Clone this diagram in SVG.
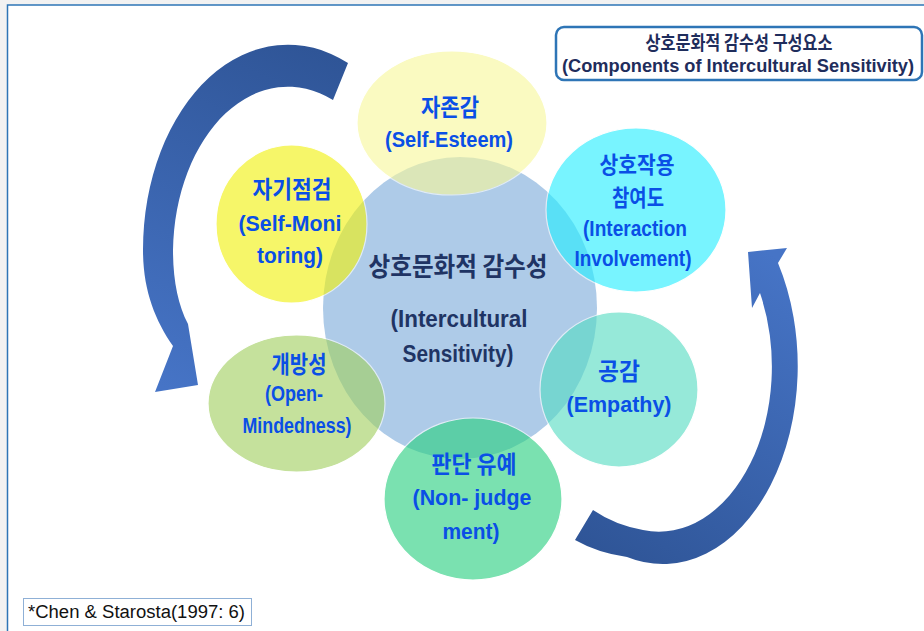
<svg xmlns="http://www.w3.org/2000/svg" width="924" height="631" viewBox="0 0 924 631">
<style>
.kt{font-family:"Noto Sans CJK KR","Noto Sans",sans-serif;font-weight:bold;text-anchor:middle}
.lt{font-family:"Liberation Sans",Arial,sans-serif;font-weight:bold;text-anchor:middle}
.node{font-size:22px;fill:#0a4fe6}
.ko{font-size:23.5px}
.ctr{font-size:24px;fill:#1f3464}
.ctrk{font-size:26px}
.ttl{font-size:19px;fill:#1f2d5c}
.sat{stroke:#ffffff;stroke-width:1.2;opacity:0.62}
</style>
<defs>
<linearGradient id="gL" gradientUnits="userSpaceOnUse" x1="320" y1="50" x2="170" y2="390">
<stop offset="0" stop-color="#2f5597"/><stop offset="1" stop-color="#4674c6"/>
</linearGradient>
<linearGradient id="gR" gradientUnits="userSpaceOnUse" x1="590" y1="550" x2="780" y2="260">
<stop offset="0" stop-color="#2f5597"/><stop offset="1" stop-color="#4674c6"/>
</linearGradient>
</defs>
<rect x="0" y="0" width="924" height="631" fill="#f2f2f2"/>
<rect x="7.5" y="5" width="940" height="650" fill="#ffffff" stroke="#2e75b6" stroke-width="1.5"/>

<g id="connectors">
<path id="arrow-left" fill="url(#gL)" d="M 348,63 A 145 205 0 0 0 143,250 C 143,290 155,320 173,346 L 155,392 L 198,385 L 188,324 C 178,305 173,280 173,250 A 115 167 0 0 1 333,100 Z"/>
<path id="arrow-right" fill="url(#gR)" d="M 575,540 Q 598,553 627,557 A 135 198 0 0 0 778,263 L 787,248 L 748,252 L 752,308 L 760,293 A 113 165 0 0 1 643,530 Q 615,525 593,510 Z"/>
</g>

<g id="center">
<ellipse cx="460" cy="308" rx="137" ry="151" fill="#aecbe8"/>
</g>
<g id="self-esteem">
<ellipse class="sat" cx="452" cy="123" rx="95" ry="72" fill="#f8f89c"/>
</g>
<g id="self-monitoring">
<ellipse class="sat" cx="291.5" cy="224" rx="75.5" ry="79" fill="#f2f20e"/>
</g>
<g id="interaction">
<ellipse class="sat" cx="636" cy="210" rx="90" ry="82" fill="#26eeff"/>
</g>
<g id="open-mindedness">
<ellipse class="sat" cx="296.5" cy="403.5" rx="88.5" ry="68.5" fill="#a2d061"/>
</g>
<g id="empathy">
<ellipse class="sat" cx="619" cy="389.5" rx="79" ry="77.5" fill="#57dcc3"/>
</g>
<g id="non-judgement">
<ellipse class="sat" cx="473" cy="499" rx="89" ry="81" fill="#2ad080"/>
</g>

<g id="center-text" class="ctr">
<text class="kt ctrk" x="458" y="276" textLength="179" lengthAdjust="spacingAndGlyphs">상호문화적 감수성</text>
<text class="lt" x="459" y="327" textLength="137" lengthAdjust="spacingAndGlyphs">(Intercultural</text>
<text class="lt" x="458" y="362" textLength="111" lengthAdjust="spacingAndGlyphs">Sensitivity)</text>
</g>
<g id="self-esteem-text" class="node">
<text class="kt ko" x="450" y="116" textLength="58" lengthAdjust="spacingAndGlyphs">자존감</text>
<text class="lt" x="449" y="147" textLength="128" lengthAdjust="spacingAndGlyphs">(Self-Esteem)</text>
</g>
<g id="self-monitoring-text" class="node">
<text class="kt ko" x="292" y="198" textLength="79" lengthAdjust="spacingAndGlyphs">자기점검</text>
<text class="lt" x="290" y="231" textLength="103" lengthAdjust="spacingAndGlyphs">(Self-Moni</text>
<text class="lt" x="290" y="263" textLength="66" lengthAdjust="spacingAndGlyphs">toring)</text>
</g>
<g id="interaction-text" class="node">
<text class="kt" font-size="22.5" x="637" y="173" textLength="75" lengthAdjust="spacingAndGlyphs">상호작용</text>
<text class="kt" font-size="22.5" x="638" y="206" textLength="52" lengthAdjust="spacingAndGlyphs">참여도</text>
<text class="lt" x="635" y="236" textLength="104" lengthAdjust="spacingAndGlyphs">(Interaction</text>
<text class="lt" x="633" y="266" textLength="117" lengthAdjust="spacingAndGlyphs">Involvement)</text>
</g>
<g id="open-mindedness-text" class="node">
<text class="kt ko" x="299" y="373" textLength="55" lengthAdjust="spacingAndGlyphs">개방성</text>
<text class="lt" x="294" y="401" textLength="58" lengthAdjust="spacingAndGlyphs">(Open-</text>
<text class="lt" x="297" y="433" textLength="109" lengthAdjust="spacingAndGlyphs">Mindedness)</text>
</g>
<g id="empathy-text" class="node">
<text class="kt ko" x="619" y="380" textLength="42" lengthAdjust="spacingAndGlyphs">공감</text>
<text class="lt" x="619" y="412" textLength="105" lengthAdjust="spacingAndGlyphs">(Empathy)</text>
</g>
<g id="non-judgement-text" class="node">
<text class="kt ko" x="474" y="473" textLength="85" lengthAdjust="spacingAndGlyphs">판단 유예</text>
<text class="lt" x="472" y="505" textLength="119" lengthAdjust="spacingAndGlyphs">(Non- judge</text>
<text class="lt" x="471" y="539" textLength="57" lengthAdjust="spacingAndGlyphs">ment)</text>
</g>

<g id="title" class="ttl">
<rect x="556" y="27" width="366" height="53" rx="8" ry="8" fill="#ffffff" stroke="#2e75b6" stroke-width="2.5"/>
<text class="kt" x="739" y="50" textLength="187" lengthAdjust="spacingAndGlyphs">상호문화적 감수성 구성요소</text>
<text class="lt" font-size="18" x="738" y="72" textLength="352" lengthAdjust="spacingAndGlyphs">(Components of Intercultural Sensitivity)</text>
</g>

<g id="footnote">
<rect x="23.5" y="598.5" width="228" height="27" fill="#ffffff" stroke="#8fb0d6" stroke-width="1"/>
<text x="28" y="618" font-family="Liberation Sans, Arial, sans-serif" font-size="18" fill="#111111" textLength="217" lengthAdjust="spacingAndGlyphs">*Chen &amp; Starosta(1997: 6)</text>
</g>
</svg>
